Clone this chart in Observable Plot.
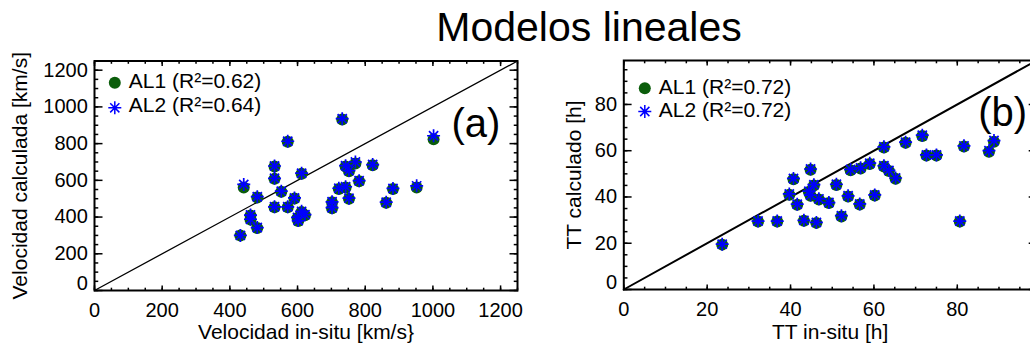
<!DOCTYPE html>
<html><head><meta charset="utf-8">
<script src="https://cdn.jsdelivr.net/npm/d3@7"></script>
<script src="https://cdn.jsdelivr.net/npm/@observablehq/plot@0.6"></script>
<style>
html,body{margin:0;padding:0;background:#fff;overflow:hidden}
#wrap{position:relative;width:1030px;height:346px;overflow:hidden;font-family:"Liberation Sans",Arial,Helvetica,sans-serif;background:#fff}
.panel{position:absolute;top:0;width:530px;height:346px}
.panel svg{max-width:none !important}
#title{position:absolute;left:0;width:1178px;top:7.3px;text-align:center;font-size:41px;line-height:41px;color:#000;white-space:nowrap}
</style></head><body>
<div id="wrap">
  <div id="pa" class="panel" style="left:0px"></div>
  <div id="pb" class="panel" style="left:530px"></div>
  <div id="title">Modelos lineales</div>
</div>
<script>
// ---------- Panel (a): velocity ----------
const velInSitu = [431, 441, 461, 461, 481, 481, 532, 532, 532, 552, 571, 571, 591, 600, 602, 612, 622, 612, 702, 702, 722, 732, 742, 742, 752, 752, 771, 782, 822, 862, 882, 952, 1002];
const velAL1    = [300, 561, 409, 386, 340, 507, 675, 608, 453, 538, 810, 453, 501, 395, 378, 428, 410, 636, 480, 448, 553, 932, 676, 561, 650, 500, 692, 595, 682, 478, 553, 561, 824];
const velAL2    = [300, 578, 411, 388, 343, 511, 678, 611, 456, 541, 813, 456, 504, 398, 381, 431, 413, 639, 483, 451, 557, 936, 680, 565, 653, 503, 700, 598, 686, 481, 556, 570, 843];
const velMajorTicks = [0, 200, 400, 600, 800, 1000, 1200];
const velLabelTicks = [200, 400, 600, 800, 1000, 1200];
const velDomain = [0, 1250];
const velLegend = ["AL1 (R²=0.62)", "AL2 (R²=0.64)"];

// ---------- Panel (b): transit time ----------
const ttInSitu = [23.6, 32.2, 36.8, 39.7, 40.7, 41.6, 43.2, 44.4, 44.8, 44.8, 45.6, 46.2, 46.8, 49.2, 51.0, 52.2, 53.8, 54.4, 56.6, 56.8, 59.0, 60.2, 62.4, 62.4, 63.6, 65.2, 67.6, 71.6, 72.6, 75.0, 80.6, 81.6, 87.6, 88.8];
const ttAL1    = [19.4, 29.4, 29.4, 41.0, 47.7, 36.6, 29.7, 42.2, 51.8, 40.5, 45.0, 28.8, 38.9, 37.4, 45.2, 31.6, 40.2, 51.6, 36.7, 52.3, 54.3, 40.6, 61.4, 53.2, 51.2, 47.9, 63.4, 66.4, 57.9, 57.9, 29.4, 61.8, 59.6, 63.9];
const ttAL2    = [19.6, 29.6, 29.6, 41.3, 48.0, 36.9, 29.9, 42.5, 52.1, 40.8, 45.3, 29.0, 39.2, 37.6, 45.5, 31.9, 40.5, 51.9, 37.0, 52.6, 54.6, 40.9, 61.7, 53.5, 51.5, 48.2, 63.7, 66.7, 58.2, 58.2, 29.6, 62.1, 60.0, 64.4];
const ttMajorTicks = [0, 20, 40, 60, 80];
const ttLabelTicks = [20, 40, 60, 80];
const ttDomain = [0, 99];
const ttLegend = ["AL1 (R²=0.72)", "AL2 (R²=0.72)"];

const GREEN = "#0b5d0b";
const BLUE = "#0000ff";
const FONT = '"Liberation Sans", Arial, Helvetica, sans-serif';

const asterisk = {
  draw(ctx, size) {
    const r = Math.sqrt(size / Math.PI);
    const d = r * Math.SQRT1_2;
    ctx.moveTo(-r, 0); ctx.lineTo(r, 0);
    ctx.moveTo(0, -r); ctx.lineTo(0, r);
    ctx.moveTo(-d, -d); ctx.lineTo(d, d);
    ctx.moveTo(-d, d); ctx.lineTo(d, -d);
  }
};

function panel(cfg) {
  const rows = cfg.xs.map((x, i) => ({x, a1: cfg.y1[i], a2: cfg.y2[i]}));
  const minor = d3.range(cfg.domain[0], cfg.domain[1] + 1e-9, cfg.minorStep);
  const xTickLen = cfg.xTickLen, yTickLen = cfg.yTickLen;
  return Plot.plot({
    width: 530, height: 346,
    marginLeft: cfg.m.left, marginRight: cfg.m.right, marginTop: cfg.m.top, marginBottom: cfg.m.bottom,
    style: {fontFamily: FONT, fontSize: "20px", background: "transparent", color: "#000", overflow: "visible", maxWidth: "none"},
    x: {domain: cfg.domain, label: null},
    y: {domain: cfg.domain, label: null},
    marks: [
      Plot.line(cfg.domain, {x: d => d, y: d => d, stroke: "#000", strokeWidth: cfg.diagWidth}),
      Plot.dot(rows, {x: "x", y: "a1", r: 6, fill: GREEN, stroke: "none"}),
      Plot.dot(rows, {x: "x", y: "a2", r: 6.5, symbol: asterisk, stroke: BLUE, strokeWidth: 1.7, fill: "none"}),
      // tick labels
      Plot.text(cfg.major, {x: d => d, text: d => String(d), frameAnchor: "bottom", textAnchor: "middle", lineAnchor: "top", dy: 12.7, fontSize: 20, fill: "#000"}),
      Plot.text(cfg.labelTicks, {y: d => d, text: d => String(d), frameAnchor: "left", textAnchor: "end", lineAnchor: "middle", dx: -6.7, fontSize: 20, fill: "#000"}),
      Plot.text([0], {y: d => d, text: d => String(d), frameAnchor: "left", textAnchor: "end", lineAnchor: "middle", dx: -6.7, dy: -6.5, fontSize: 20, fill: "#000"}),
      // inward ticks on all four sides
      Plot.axisX({anchor: "bottom", ticks: cfg.major, tickSize: -xTickLen, fill: "none", label: null, strokeWidth: 1.5}),
      Plot.axisX({anchor: "bottom", ticks: minor, tickSize: -xTickLen / 2, fill: "none", label: null, strokeWidth: 1.5}),
      Plot.axisX({anchor: "top", ticks: cfg.major, tickSize: -xTickLen, fill: "none", label: null, strokeWidth: 1.5}),
      Plot.axisX({anchor: "top", ticks: minor, tickSize: -xTickLen / 2, fill: "none", label: null, strokeWidth: 1.5}),
      Plot.axisY({anchor: "left", ticks: cfg.major, tickSize: -yTickLen, fill: "none", label: null, strokeWidth: 1.5}),
      Plot.axisY({anchor: "left", ticks: minor, tickSize: -yTickLen / 2, fill: "none", label: null, strokeWidth: 1.5}),
      Plot.axisY({anchor: "right", ticks: cfg.major, tickSize: -yTickLen, fill: "none", label: null, strokeWidth: 1.5}),
      Plot.axisY({anchor: "right", ticks: minor, tickSize: -yTickLen / 2, fill: "none", label: null, strokeWidth: 1.5}),
      Plot.frame({stroke: "#000", strokeWidth: 2}),
      // axis titles
      Plot.text([cfg.xLabel], {text: d => d, frameAnchor: "bottom", textAnchor: "middle", lineAnchor: "bottom", dy: cfg.xLabelDy, fontSize: 21, fill: "#000"}),
      Plot.text([cfg.yLabel], {text: d => d, frameAnchor: "left", textAnchor: "middle", lineAnchor: "bottom", rotate: -90, dx: cfg.yLabelDx, fontSize: 21, fill: "#000"}),
      // legend
      Plot.dot([cfg.legend[0]], {frameAnchor: "top-left", dx: cfg.leg.mx, dy: cfg.leg.y1, r: 6, fill: GREEN, stroke: "none"}),
      Plot.dot([cfg.legend[1]], {frameAnchor: "top-left", dx: cfg.leg.mx, dy: cfg.leg.y2, r: 6.5, symbol: asterisk, stroke: BLUE, strokeWidth: 1.5, fill: "none"}),
      Plot.text([cfg.legend[0]], {text: d => d, frameAnchor: "top-left", textAnchor: "start", lineAnchor: "bottom", dx: cfg.leg.tx, dy: cfg.leg.b1, fontSize: 21, fill: "#000"}),
      Plot.text([cfg.legend[1]], {text: d => d, frameAnchor: "top-left", textAnchor: "start", lineAnchor: "bottom", dx: cfg.leg.tx, dy: cfg.leg.b2, fontSize: 21, fill: "#000"}),
      // panel tag
      Plot.text([cfg.tag], {text: d => d, frameAnchor: "top-left", textAnchor: "start", lineAnchor: "bottom", dx: cfg.tagDx, dy: cfg.tagDy, fontSize: 40, fill: "#000"})
    ]
  });
}

document.getElementById("pa").append(panel({
  xs: velInSitu, y1: velAL1, y2: velAL2, domain: velDomain, major: velMajorTicks, labelTicks: velLabelTicks,
  minorStep: 50, xTickLen: 4.6, yTickLen: 8.5, diagWidth: 1.3,
  m: {left: 94, right: 13, top: 60.5, bottom: 56},
  xLabel: "Velocidad in-situ [km/s}", yLabel: "Velocidad calculada [km/s]",
  xLabelDy: 48.5, yLabelDx: -67.3,
  legend: velLegend, leg: {mx: 20.3, y1: 21.8, y2: 46.8, tx: 34.3, b1: 26.8, b2: 51.2},
  tag: "(a)", tagDx: 357, tagDy: 76
}));

document.getElementById("pb").append(panel({
  xs: ttInSitu, y1: ttAL1, y2: ttAL2, domain: ttDomain, major: ttMajorTicks, labelTicks: ttLabelTicks,
  minorStep: 5, xTickLen: 4.6, yTickLen: 8.3, diagWidth: 2,
  m: {left: 93.3, right: 24, top: 60, bottom: 57},
  xLabel: "TT in-situ [h]", yLabel: "TT calculado [h]",
  xLabelDy: 49.3, yLabelDx: -43.3,
  legend: ttLegend, leg: {mx: 21, y1: 27.7, y2: 51, tx: 35, b1: 33, b2: 56.7},
  tag: "(b)", tagDx: 354.5, tagDy: 65
}));
</script>
</body></html>
